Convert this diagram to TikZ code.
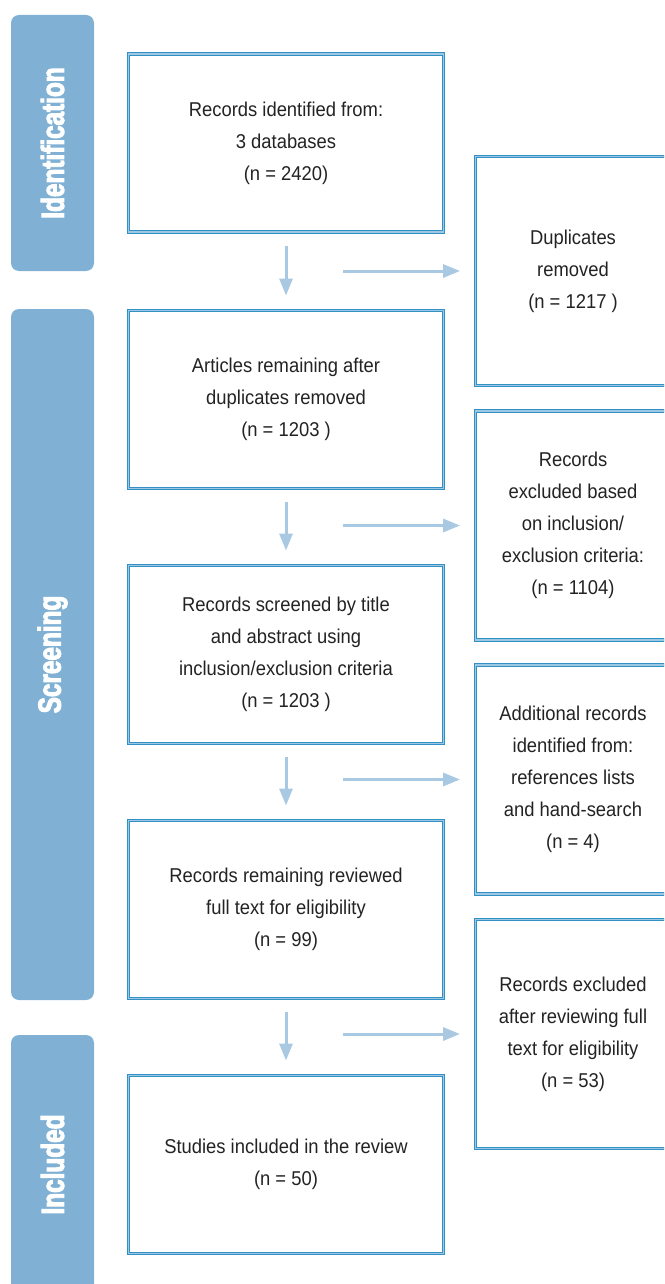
\documentclass[tikz,border=0pt]{standalone}
\usepackage{fontspec}
\setmainfont{Liberation Sans}[FakeStretch=0.92]
\newfontfamily\stagefont{Liberation Sans}[FakeStretch=0.76, FakeBold=3]
\usetikzlibrary{arrows.meta}
\definecolor{stagec}{HTML}{80B1D4}
\definecolor{edgec}{HTML}{3390C4}
\definecolor{rimc}{HTML}{9CC8E3}
\definecolor{flowc}{HTML}{A9C9E3}
\definecolor{inkc}{HTML}{232323}
\tikzset{
  stage/.style={fill=stagec, rounded corners=8pt},
  stagelabel/.style={text=white, rotate=90, font=\stagefont\bfseries\fontsize{32}{32}\selectfont},
  record/.style={draw=edgec, double=rimc, double distance=1.6pt, line width=0.9pt, fill=white, text=inkc, align=center, inner sep=0pt, minimum width=315pt, minimum height=178pt, font=\fontsize{20}{32}\selectfont},
  sidebox/.style={record, minimum width=195pt, minimum height=229pt},
  flow/.style={draw=flowc, line width=3pt, -{Triangle[length=17pt,width=13pt]}},
}
\begin{document}
\begin{tikzpicture}[x=1pt,y=-1pt]
\useasboundingbox (0,0) rectangle (664,1284);
\clip (0,0) rectangle (664,1284);
\fill[stage] (11,15) rectangle (94,271);
\fill[stage] (11,309) rectangle (94,1000);
\fill[stage] (11,1035) rectangle (94,1310);
\node[stagelabel] (ident) at (52.5,143) {Identification};
\node[stagelabel] (scr) at (52.5,654.5) {Screening};
\node[stagelabel] (inc) at (52.5,1164.5) {Included};
\node[record] (found) at (286,143) {Records identified from:\\3 databases\\(n = 2420)};
\node[record] (dedup) at (286,399.5) {Articles remaining after\\duplicates removed\\(n = 1203 )};
\node[record] (screen) at (286,654.5) {Records screened by title\\and abstract using\\inclusion/exclusion criteria\\(n = 1203 )};
\node[record] (full) at (286,909.5) {Records remaining reviewed\\full text for eligibility\\(n = 99)};
\node[record] (incl) at (286,1164.5) {Studies included in the review\\(n = 50)};
\node[sidebox] (dupl) at (573,271) {Duplicates\\removed\\(n = 1217 )};
\node[sidebox] (excl) at (573,525.5) {Records\\excluded based\\on inclusion/\\exclusion criteria:\\(n = 1104)};
\node[sidebox] (extra) at (573,779.5) {Additional records\\identified from:\\references lists\\and hand-search\\(n = 4)};
\node[sidebox] (drop) at (573,1034) {Records excluded\\after reviewing full\\text for eligibility\\(n = 53)};
\coordinate (from1) at (343,271);
\coordinate (from2) at (343,525.5);
\coordinate (from3) at (343,779.5);
\coordinate (from4) at (343,1034);
\draw[flow, shorten <=13.5pt, shorten >=14.5pt] (found) -- (dedup);
\draw[flow, shorten <=13.5pt, shorten >=14.5pt] (dedup) -- (screen);
\draw[flow, shorten <=13.5pt, shorten >=14.5pt] (screen) -- (full);
\draw[flow, shorten <=13.5pt, shorten >=14.5pt] (full) -- (incl);
\draw[flow, shorten >=15pt] (from1) -- (dupl);
\draw[flow, shorten >=15pt] (from2) -- (excl);
\draw[flow, shorten >=15pt] (from3) -- (extra);
\draw[flow, shorten >=15pt] (from4) -- (drop);
\end{tikzpicture}
\end{document}
